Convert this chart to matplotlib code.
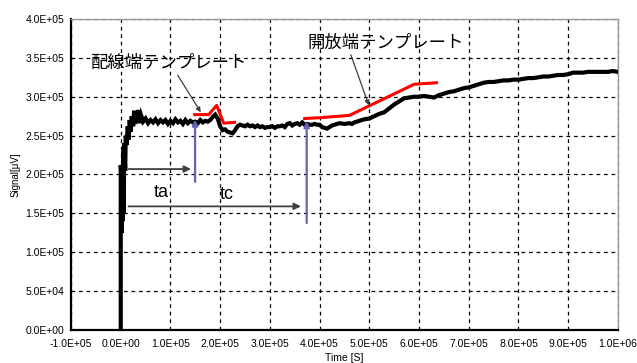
import numpy as np
import matplotlib
matplotlib.use("Agg")
from matplotlib import pyplot as plt

plt.rcParams['font.family'] = ['Liberation Sans', 'Noto Sans CJK JP', 'DejaVu Sans']

# measured signal (time in 1e3 s, signal in 1e3 uV)
sig_t = [0, 0, 1, 2, 3, 4, 5, 6, 7, 9, 10, 12, 14, 16, 18, 20, 22, 25, 27, 29, 31, 33, 36, 38, 41, 45,
         50, 55, 60, 65, 70, 75, 80, 85, 90, 95, 100, 105, 110, 115, 120, 125, 130, 135, 140, 145,
         150, 155, 160, 165, 170, 175, 180, 185, 190, 195, 200, 205, 210, 215, 220, 225, 230, 235,
         240, 245, 250, 255, 260, 265, 270, 275, 280, 285, 290, 295, 300, 305, 310, 315, 320, 325,
         330, 335, 340, 345, 350, 355, 360, 365, 370, 375, 380, 385, 390, 395, 400, 405, 410, 415,
         420, 425, 430, 440, 450, 460, 465, 470, 480, 490, 500, 510, 520, 530, 540, 550, 560, 570,
         580, 590, 600, 610, 620, 630, 640, 650, 660, 670, 680, 690, 700, 710, 720, 730, 740, 750,
         760, 770, 780, 790, 800, 810, 820, 830, 840, 850, 860, 870, 880, 890, 900, 910, 920, 930,
         940, 950, 960, 970, 980, 990, 1000]
sig_v = [0, 212, 200, 125, 180, 140, 230, 150, 240, 205, 250, 238, 262, 245, 270, 255, 275, 262, 282,
         265, 280, 268, 283, 266, 276, 268,
         272, 266, 270, 267, 271, 266, 270, 267, 270, 265, 269, 266, 271, 267, 269, 265, 270, 266,
         269, 267, 268, 266, 270, 267, 269, 268, 270, 274, 277, 272, 262, 257, 258, 255, 254, 253,
         257, 262, 264, 263, 262, 264, 262, 263, 261, 263, 261, 262, 260, 261, 261, 262, 260, 262,
         262, 263, 261, 265, 266, 263, 265, 266, 264, 267, 264, 265, 264, 264, 265, 264, 264, 261,
         260, 259, 261, 263, 264, 266, 265, 266, 265, 267, 269, 271, 272, 275, 278, 280, 285, 290,
         294, 298, 299, 300, 300, 301, 300, 299, 302, 304, 306, 307, 309, 311, 312, 314, 316, 318,
         319, 319, 320, 321, 321, 322, 322, 323, 324, 324, 325, 326, 326, 327, 328, 328, 329, 331,
         331, 331, 332, 332, 332, 332, 332, 333, 332]

# templates
wire_t = [149, 177, 193, 207, 229]
wire_v = [277, 277, 289, 266, 267]
open_t = [370, 400, 460, 590, 635]
open_v = [272, 273, 276, 316, 318]

# marker times for ta / tc
ta_t = 149.5
tc_t = 374

k = 1e3
fig = plt.figure(figsize=(6.37, 3.63), dpi=100)
ax = fig.add_axes([0.1115, 0.0909, 0.8585, 0.8568])

ax.plot(np.array(sig_t) * k, np.array(sig_v) * k, color='black', lw=3.0, zorder=4,
        solid_joinstyle='miter')
ax.plot(np.array(wire_t) * k, np.array(wire_v) * k, color='#ff0000', lw=2.2, zorder=5)
ax.plot(np.array(open_t) * k, np.array(open_v) * k, color='#ff0000', lw=2.2, zorder=5)

# blue markers with small arrowheads on top
blue = '#6464b4'
ax.annotate('', xy=(ta_t * k, 274 * k), xytext=(ta_t * k, 187 * k),
            arrowprops=dict(arrowstyle='-|>', color=blue, lw=1.6, mutation_scale=8), zorder=6)
ax.annotate('', xy=(tc_t * k, 272 * k), xytext=(tc_t * k, 134 * k),
            arrowprops=dict(arrowstyle='-|>', color=blue, lw=1.6, mutation_scale=8), zorder=6)

# ta / tc span arrows
gray = '#404040'
ax.annotate('', xy=(147 * k, 207 * k), xytext=(10 * k, 207 * k),
            arrowprops=dict(arrowstyle='-|>', color=gray, lw=1.3, mutation_scale=10), zorder=6)
ax.annotate('', xy=(368 * k, 159 * k), xytext=(10 * k, 159 * k),
            arrowprops=dict(arrowstyle='-|>', color=gray, lw=1.3, mutation_scale=10), zorder=6)
ax.text(67 * k, 177 * k, 'ta', fontsize=13, va='center', ha='left', zorder=7)
ax.text(200 * k, 174 * k, 'tc', fontsize=13, va='center', ha='left', zorder=7)

# template labels
ax.annotate('配線端テンプレート', xy=(161 * k, 280 * k), xytext=(-62 * k, 343 * k),
            fontsize=12.5, va='center', ha='left', family=['Noto Sans CJK JP', 'DejaVu Sans'],
            arrowprops=dict(arrowstyle='-|>', color=gray, lw=0.9, mutation_scale=7,
                            shrinkA=0, shrinkB=0, relpos=(0.55, 0)), zorder=7)
ax.annotate('開放端テンプレート', xy=(499 * k, 289 * k), xytext=(376 * k, 369 * k),
            fontsize=12.5, va='center', ha='left', family=['Noto Sans CJK JP', 'DejaVu Sans'],
            arrowprops=dict(arrowstyle='-|>', color=gray, lw=0.9, mutation_scale=7,
                            shrinkA=0, shrinkB=0, relpos=(0.27, 0)), zorder=7)

ax.set_xlim(-1e5, 1e6)
ax.set_ylim(0, 4e5)
ax.set_xticks(np.arange(-1e5, 1.0e6 + 1, 1e5))
ax.set_yticks(np.arange(0, 4e5 + 1, 5e4))
ax.set_xticklabels(['%.1E' % v for v in ax.get_xticks()], fontsize=7.5)
ax.set_yticklabels(['%.1E' % v for v in ax.get_yticks()], fontsize=7.5)
ax.tick_params(axis='x', length=0, pad=6.5)
ax.tick_params(axis='y', length=0, pad=5)

ax.grid(True, color='black', linestyle=(0, (3, 3)), lw=0.9, zorder=1)
for side in ['left', 'bottom']:
    ax.spines[side].set_linewidth(1.6)
    ax.spines[side].set_color('black')
for side in ['top', 'right']:
    ax.spines[side].set_linewidth(1.0)
    ax.spines[side].set_color('#999999')

ax.set_xlabel('Time [S]', fontsize=7.5, labelpad=3)
ax.set_ylabel('Signal[μV]', fontsize=7, labelpad=3)

fig.savefig('out.png', dpi=100)
